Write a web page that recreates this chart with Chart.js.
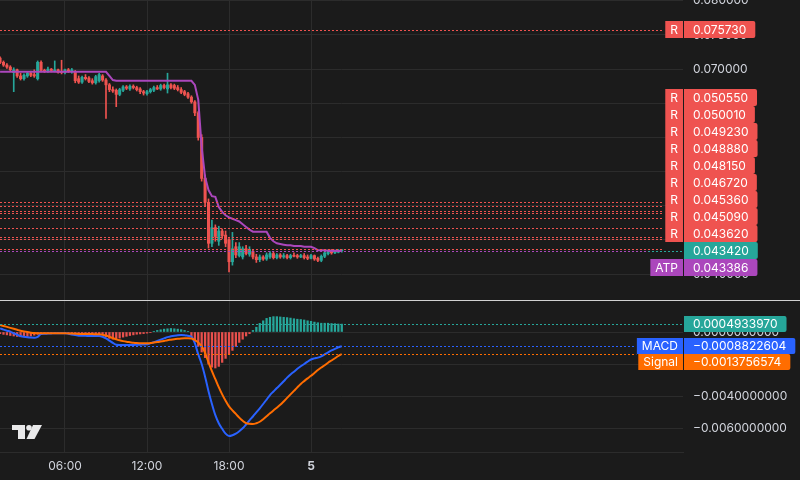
<!DOCTYPE html>
<html><head><meta charset="utf-8">
<script src="https://cdn.jsdelivr.net/npm/chart.js@4.4.1/dist/chart.umd.min.js"></script>
<style>
html,body{margin:0;padding:0;background:#1b1b1b;width:800px;height:480px;overflow:hidden;}
#pa{position:absolute;left:0;top:0;width:800px;height:300px;}
#sep{position:absolute;left:0;top:300px;width:800px;height:1px;background:#d2d2d2;}
#pb{position:absolute;left:0;top:301px;width:800px;height:179px;}
</style></head><body>
<div id="pa"><canvas id="ca"></canvas></div>
<div id="sep"></div>
<div id="pb"><canvas id="cb"></canvas></div>
<script>
// ---- data (15-minute candles; index 0 = 06:00, first candle index -19) ----
const firstIndex = -19;
const opens = [
 .0716,.0710,.0706,.0703,.0695,.0699,.0690,.0686,.0690,.0694,
 .0692,.0686,.0710,.0698,.0697,.0700,.0697,.0699,.0697,.0695,
 .0699,.0696,.0696,.0686,.0681,.0688,.0687,.0683,.0680,.0683,
 .0690,.0684,.0677,.0670,.0669,.0663,.0669,.0674,.0671,.0675,
 .0673,.0671,.0667,.0664,.0667,.0669,.0673,.0671,.0676,.0671,
 .0677,.0676,.0673,.0670,.0667,.0664,.0659,.0652,.0636,.0600,
 .0540,.0505,.0445,.0468,.0448,.0463,.0457,.0450,.0418,.0440,
 .0427,.0425,.0437,.0429,.0433,.0425,.0421,.0425,.0422,.0425,
 .0430,.0424,.0428,.0425,.0427,.0424,.0427,.0427,.0425,.0427,
 .0425,.0423,.0427,.0423,.0420,.0426,.0430,.0434,.0431,.0432,
 .0434];
const highs = [
 .0718,.0712,.0708,.0705,.0702,.0700,.0694,.0693,.0696,.0697,
 .0699,.0712,.0712,.0700,.0703,.0701,.0712,.0700,.0713,.0700,
 .0701,.0701,.0698,.0690,.0690,.0692,.0689,.0686,.0691,.0694,
 .0692,.0686,.0679,.0674,.0671,.0672,.0676,.0676,.0677,.0677,
 .0675,.0673,.0669,.0669,.0672,.0675,.0676,.0678,.0678,.0694,
 .0679,.0678,.0676,.0673,.0669,.0666,.0661,.0654,.0638,.0604,
 .0545,.0510,.0479,.0472,.0470,.0466,.0463,.0452,.0461,.0446,
 .0446,.0440,.0442,.0440,.0435,.0429,.0428,.0427,.0431,.0433,
 .0433,.0430,.0430,.0430,.0429,.0429,.0431,.0429,.0429,.0430,
 .0428,.0429,.0428,.0425,.0428,.0433,.0435,.0436,.0435,.0436,
 .0436];
const lows = [
 .0708,.0704,.0701,.0697,.0667,.0688,.0684,.0684,.0688,.0689,
 .0688,.0684,.0696,.0695,.0695,.0696,.0696,.0694,.0693,.0693,
 .0695,.0694,.0680,.0679,.0679,.0684,.0680,.0678,.0678,.0681,
 .0682,.0628,.0667,.0666,.0645,.0661,.0667,.0670,.0669,.0671,
 .0668,.0664,.0662,.0662,.0665,.0667,.0670,.0669,.0671,.0665,
 .0671,.0670,.0668,.0664,.0661,.0657,.0650,.0632,.0596,.0536,
 .0500,.0438,.0440,.0448,.0442,.0452,.0440,.0403,.0413,.0424,
 .0425,.0422,.0428,.0426,.0422,.0417,.0418,.0420,.0420,.0423,
 .0422,.0422,.0423,.0423,.0422,.0422,.0425,.0423,.0424,.0422,
 .0421,.0422,.0420,.0418,.0418,.0424,.0428,.0429,.0430,.0431,
 .0432];
const closes = [
 .0710,.0706,.0703,.0699,.0699,.0690,.0686,.0691,.0694,.0691,
 .0690,.0710,.0698,.0697,.0700,.0698,.0699,.0695,.0695,.0699,
 .0697,.0699,.0683,.0681,.0688,.0686,.0682,.0680,.0689,.0692,
 .0684,.0677,.0670,.0668,.0663,.0670,.0674,.0672,.0675,.0673,
 .0670,.0667,.0665,.0667,.0670,.0673,.0671,.0676,.0673,.0677,
 .0673,.0672,.0670,.0666,.0663,.0659,.0652,.0636,.0600,.0540,
 .0505,.0445,.0468,.0455,.0463,.0456,.0445,.0418,.0437,.0428,
 .0440,.0437,.0430,.0436,.0425,.0421,.0425,.0422,.0428,.0430,
 .0424,.0428,.0425,.0427,.0424,.0427,.0426,.0425,.0427,.0424,
 .0423,.0427,.0422,.0420,.0426,.0431,.0433,.0431,.0434,.0435,
 .04342];
const atp = [
 .0696,.0696,.0696,.0696,.0696,.0696,.0696,.0696,.0696,.0696,
 .0696,.0696,.0696,.0696,.0696,.0696,.0696,.0696,.0696,.0696,
 .0696,.0696,.0696,.0696,.0696,.0696,.0696,.0696,.0696,.0696,
 .0696,.0696,.0690,.0684,.0683,.0683,.0683,.0683,.0683,.0683,
 .0683,.0683,.0683,.0683,.0683,.0683,.0683,.0683,.0683,.0683,
 .0683,.0683,.0683,.0683,.0683,.0683,.0683,.0677,.0655,.0586,
 .0542,.0523,.0514,.0513,.0498,.0491,.0486,.0483,.0481,.0479,
 .0477,.0473,.0469,.0465,.0462,.0462,.0462,.0462,.0462,.0453,
 .0448,.0445,.0444,.0443,.0442,.0442,.0441,.0441,.0441,.0440,
 .0440,.0440,.0438,.0435,.0435,.0435,.0434,.0434,.0434,.04339,
 .043386];
const macd = [
 0.00023,0.00015,0.00008,0.00002,-0.00008,-0.00017,-0.00025,-0.00030,-0.00033,-0.00035,
 -0.00036,-0.00030,-0.00013,-0.00011,-0.00010,-0.00009,-0.00008,-0.00008,-0.00008,-0.00008,
 -0.00011,-0.00015,-0.00019,-0.00023,-0.00024,-0.00024,-0.00025,-0.00025,-0.00025,-0.00025,
 -0.00030,-0.00040,-0.00054,-0.00068,-0.00080,-0.00081,-0.00081,-0.00081,-0.00081,-0.00081,
 -0.00080,-0.00079,-0.00078,-0.00077,-0.00071,-0.00064,-0.00056,-0.00048,-0.00040,-0.00032,
 -0.00027,-0.00023,-0.00020,-0.00019,-0.00020,-0.00024,-0.00030,-0.00070,-0.00140,-0.00200,
 -0.00279,-0.00370,-0.00450,-0.00520,-0.00570,-0.00605,-0.00635,-0.00650,-0.00645,-0.00635,
 -0.00620,-0.00602,-0.00578,-0.00552,-0.00528,-0.00502,-0.00477,-0.00450,-0.00422,-0.00394,
 -0.00372,-0.00350,-0.00330,-0.00308,-0.00285,-0.00265,-0.00248,-0.00230,-0.00214,-0.00200,
 -0.00185,-0.00172,-0.00165,-0.00160,-0.00152,-0.00140,-0.00127,-0.00115,-0.00105,-0.00096,
 -0.0008822604];
const signal = [
 0.00044,0.00038,0.00032,0.00026,0.00020,0.00014,0.00008,0.00004,0.00000,-0.00004,
 -0.00007,-0.00008,-0.00008,-0.00008,-0.00008,-0.00008,-0.00008,-0.00008,-0.00008,-0.00008,
 -0.00009,-0.00010,-0.00011,-0.00012,-0.00012,-0.00013,-0.00013,-0.00013,-0.00014,-0.00014,
 -0.00017,-0.00022,-0.00030,-0.00038,-0.00046,-0.00052,-0.00057,-0.00061,-0.00064,-0.00067,
 -0.00069,-0.00070,-0.00071,-0.00071,-0.00069,-0.00066,-0.00063,-0.00060,-0.00056,-0.00051,
 -0.00048,-0.00045,-0.00042,-0.00040,-0.00039,-0.00039,-0.00040,-0.00050,-0.00066,-0.00090,
 -0.00130,-0.00190,-0.00245,-0.00295,-0.00345,-0.00390,-0.00430,-0.00465,-0.00490,-0.00512,
 -0.00535,-0.00555,-0.00570,-0.00574,-0.00575,-0.00570,-0.00561,-0.00545,-0.00527,-0.00508,
 -0.00490,-0.00473,-0.00455,-0.00434,-0.00412,-0.00390,-0.00368,-0.00346,-0.00325,-0.00307,
 -0.00290,-0.00274,-0.00256,-0.00238,-0.00222,-0.00208,-0.00192,-0.00178,-0.00164,-0.00150,
 -0.0013756574];
const hist = [
 -0.00010,-0.00015,-0.00018,-0.00022,-0.00025,-0.00028,-0.00030,-0.00030,-0.00028,-0.00025,
 -0.00020,-0.00015,-0.00008,-0.00006,-0.00005,-0.00004,-0.00004,-0.00003,-0.00003,-0.00004,
 -0.00006,-0.00010,-0.00015,-0.00020,-0.00022,-0.00022,-0.00020,-0.00018,-0.00015,-0.00014,
 -0.00018,-0.00030,-0.00040,-0.00045,-0.00042,-0.00038,-0.00032,-0.00027,-0.00022,-0.00018,
 -0.00014,-0.00012,-0.00010,-0.00007,-0.00004,0.00004,0.00010,0.00014,0.00018,0.00020,
 0.00022,0.00020,0.00018,0.00015,0.00010,0.00004,-0.00030,-0.00060,-0.00090,-0.00125,
 -0.00160,-0.00200,-0.00220,-0.00225,-0.00215,-0.00190,-0.00165,-0.00140,-0.00115,-0.00090,
 -0.00065,-0.00045,-0.00025,-0.00010,0.00010,0.00030,0.00054,0.00070,0.00085,0.00092,
 0.00096,0.00096,0.00094,0.00092,0.00090,0.00087,0.00083,0.00080,0.00078,0.00075,
 0.00070,0.00067,0.00062,0.00058,0.00055,0.00055,0.00055,0.00053,0.00052,0.00050,
 0.000493397];
const resistanceLevels = [0.07573,0.05055,0.05001,0.04923,0.04888,0.04815,0.04672,0.04536,0.04509,0.04362];
const priceTicks = [0.080,0.075,0.070,0.065,0.060,0.055,0.050,0.045,0.040];
const macdTicks = [0,-0.002,-0.004,-0.006];
const timeTickIdx = [0,24,48,72];
const timeTickLabels = ['06:00','12:00','18:00','5'];

// ---- style ----
const BG='#1b1b1b', GRID='#2c2c2c', TXT='#d1d4dc', FONT_FAM='Inter, "Noto Sans", sans-serif';
const UP='#26a69a', DN='#ef5350', RCOL='#ef5350', ATPC='#ab47bc', BLUE='#2962ff', ORANGE='#ff6d00', TEAL='#26a69a';
const X_MIN=-19.02, X_MAX=180.86;
const Y_MIN=0.03620, Y_MAX=0.08012;
const M_MIN=-0.0075, M_MAX=0.0019375;

const xs = opens.map((_,k)=>firstIndex+k);
const candleCol = opens.map((o,k)=> closes[k]>=o ? UP : DN);
const lastPrice = closes[closes.length-1];
const lastAtp = atp[atp.length-1];

function fmtMacd(v){ return (v<0?'\u2212':'')+Math.abs(v).toFixed(10); }

function rrect(ctx,x,y,w,h,r){
  ctx.beginPath();
  if (ctx.roundRect) ctx.roundRect(x,y,w,h,r); else ctx.rect(x,y,w,h);
  ctx.fill();
}

function layoutLabels(chart, items, boxH, anchor){
  const ys = chart.scales.y;
  const desired = items.map(it=>ys.getPixelForValue(it.value));
  const pos = desired.slice();
  for (let k=anchor-1;k>=0;k--) pos[k]=Math.min(desired[k], pos[k+1]-boxH);
  for (let k=anchor+1;k<items.length;k++) pos[k]=Math.max(desired[k], pos[k-1]+boxH);
  return pos;
}
function tagWidth(ctx, tag){ return tag ? ctx.measureText(tag).width+10 : 0; }

function drawLevelLines(chart, items){
  const {ctx, chartArea:a} = chart; const ys = chart.scales.y;
  ctx.save();
  ctx.font = '12px '+FONT_FAM;
  ctx.lineWidth=1; ctx.setLineDash([2,2]);
  items.forEach(it=>{
    const py = Math.round(ys.getPixelForValue(it.value))+0.5;
    const end = it.tag ? a.right - tagWidth(ctx,it.tag) - 2 : a.right;
    ctx.strokeStyle = it.color;
    ctx.beginPath(); ctx.moveTo(a.left,py); ctx.lineTo(end,py); ctx.stroke();
  });
  ctx.restore();
}
function drawLabels(chart, items, boxH, anchor){
  const {ctx, chartArea:a} = chart;
  const pos = layoutLabels(chart, items, boxH, anchor);
  ctx.save();
  ctx.font = '12px '+FONT_FAM; ctx.textBaseline='middle';
  items.forEach((it,k)=>{
    const top = Math.round(pos[k]-boxH/2);
    const tw = ctx.measureText(it.text).width;
    const bx = a.right+1;
    ctx.fillStyle = it.color; rrect(ctx,bx,top,tw+18,boxH,[0,2,2,0]);
    ctx.fillStyle='#ffffff'; ctx.textAlign='left';
    ctx.fillText(it.text, bx+9, top+boxH/2+0.5);
    if (it.tag){
      const tgw = tagWidth(ctx,it.tag);
      ctx.fillStyle = it.color; ctx.fillRect(a.right-tgw, top, tgw, boxH);
      ctx.fillStyle='#ffffff'; ctx.textAlign='center';
      ctx.fillText(it.tag, a.right-tgw/2, top+boxH/2+0.5);
    }
  });
  ctx.restore();
}

const priceItems = resistanceLevels.map(v=>({value:v, text:v.toFixed(6), color:RCOL, tag:'R'}))
  .concat([{value:lastPrice, text:lastPrice.toFixed(6), color:TEAL, tag:null, anchor:true},
           {value:lastAtp, text:lastAtp.toFixed(6), color:ATPC, tag:'ATP'}])
  .sort((p,q)=>q.value-p.value);
const priceAnchor = priceItems.findIndex(it=>it.anchor);

const macdItems = [
  {value:hist[hist.length-1], text:fmtMacd(hist[hist.length-1]), color:TEAL, tag:null},
  {value:macd[macd.length-1], text:fmtMacd(macd[macd.length-1]), color:BLUE, tag:'MACD'},
  {value:signal[signal.length-1], text:fmtMacd(signal[signal.length-1]), color:ORANGE, tag:'Signal'}
].sort((p,q)=>q.value-p.value);

const pricePlugin = {
  id:'priceLevels',
  beforeDraw(chart){ const c=chart.ctx; c.save(); c.fillStyle=BG; c.fillRect(0,0,chart.width,chart.height); c.restore(); },
  afterDatasetsDraw(chart){ drawLevelLines(chart, priceItems); },
  afterDraw(chart){ drawLabels(chart, priceItems, 17, priceAnchor); }
};
const macdPlugin = {
  id:'macdLevels',
  beforeDraw(chart){ const c=chart.ctx; c.save(); c.fillStyle=BG; c.fillRect(0,0,chart.width,chart.height); c.restore(); },
  afterDatasetsDraw(chart){ drawLevelLines(chart, macdItems); },
  afterDraw(chart){
    drawLabels(chart, macdItems, 16, 0);
    const c = chart.ctx; const a = chart.chartArea;
    const bx = 12, by = a.bottom - 27;
    c.save(); c.fillStyle='#e9e9ea';
    c.fillRect(bx, by, 13, 5);
    c.fillRect(bx+6, by, 7, 14);
    c.beginPath(); c.arc(bx+17, by+2.7, 2.8, 0, Math.PI*2); c.fill();
    c.beginPath(); c.moveTo(bx+21, by); c.lineTo(bx+30, by); c.lineTo(bx+22.5, by+14); c.lineTo(bx+14.5, by+14); c.closePath(); c.fill();
    c.restore();
  }
};

Chart.defaults.font.family = FONT_FAM;
Chart.defaults.font.size = 12;

function noPad(s){ s.paddingTop=0; s.paddingBottom=0; s.paddingLeft=0; s.paddingRight=0; }

const xScaleBase = {
  type:'linear', min:X_MIN, max:X_MAX, offset:false,
  grid:{color:GRID, drawTicks:false, offset:false},
  afterBuildTicks: s=>{ s.ticks = timeTickIdx.map(v=>({value:v})); }
};

new Chart(document.getElementById('ca'), {
  type:'bar',
  data:{datasets:[
    {type:'line', data:xs.map((x,k)=>({x, y:atp[k]})), borderColor:ATPC, borderWidth:2, pointRadius:0, tension:0, order:1},
    {type:'bar', data:xs.map((x,k)=>({x, y:[Math.min(opens[k],closes[k]), Math.max(opens[k],closes[k])]})),
      backgroundColor:candleCol, barThickness:2.4, minBarLength:1, grouped:false, order:2},
    {type:'bar', data:xs.map((x,k)=>({x, y:[lows[k], highs[k]]})),
      backgroundColor:candleCol, barThickness:1, grouped:false, order:3}
  ]},
  options:{
    responsive:true, maintainAspectRatio:false, animation:false, devicePixelRatio:1,
    layout:{padding:0},
    plugins:{legend:{display:false}, tooltip:{enabled:false}},
    scales:{
      x:Object.assign({}, xScaleBase, {border:{display:false}, ticks:{display:false}, afterFit:s=>{s.height=0; noPad(s);}}),
      y:{position:'right', min:Y_MIN, max:Y_MAX,
         grid:{color:GRID, drawTicks:false}, border:{display:false},
         ticks:{color:TXT, padding:10, font:{size:12}, callback:v=>Number(v).toFixed(6)},
         afterBuildTicks:s=>{ s.ticks = priceTicks.map(v=>({value:v})); },
         afterFit:s=>{ s.width=117; noPad(s); }}
    }
  },
  plugins:[pricePlugin]
});

new Chart(document.getElementById('cb'), {
  type:'bar',
  data:{datasets:[
    {type:'line', data:xs.map((x,k)=>({x, y:signal[k]})), borderColor:ORANGE, borderWidth:2, pointRadius:0, cubicInterpolationMode:'monotone', order:1},
    {type:'line', data:xs.map((x,k)=>({x, y:macd[k]})), borderColor:BLUE, borderWidth:2, pointRadius:0, cubicInterpolationMode:'monotone', order:2},
    {type:'bar', data:xs.map((x,k)=>({x, y:hist[k]})), backgroundColor:hist.map(v=>v>=0?'#26a69a':'#e8504d'),
      barThickness:1.6, grouped:false, order:3}
  ]},
  options:{
    responsive:true, maintainAspectRatio:false, animation:false, devicePixelRatio:1,
    layout:{padding:0},
    plugins:{legend:{display:false}, tooltip:{enabled:false}},
    scales:{
      x:Object.assign({}, xScaleBase, {
        border:{display:true, color:GRID},
        ticks:{color:TXT, padding:7, autoSkip:false, maxRotation:0,
               font:c=>({size:12, weight:(c.tick && c.tick.value===72)?'bold':'normal'}),
               callback:v=>{ const i=timeTickIdx.indexOf(v); return i>=0?timeTickLabels[i]:''; }},
        afterFit:s=>{ s.height=28; noPad(s); }}),
      y:{position:'right', min:M_MIN, max:M_MAX,
         grid:{color:GRID, drawTicks:false}, border:{display:false},
         ticks:{color:TXT, padding:10, font:{size:12}, callback:v=>Number(v)===0?'0.0000000000':fmtMacd(Number(v))},
         afterBuildTicks:s=>{ s.ticks = macdTicks.map(v=>({value:v})); },
         afterFit:s=>{ s.width=117; noPad(s); }}
    }
  },
  plugins:[macdPlugin]
});
</script>
</body></html>
